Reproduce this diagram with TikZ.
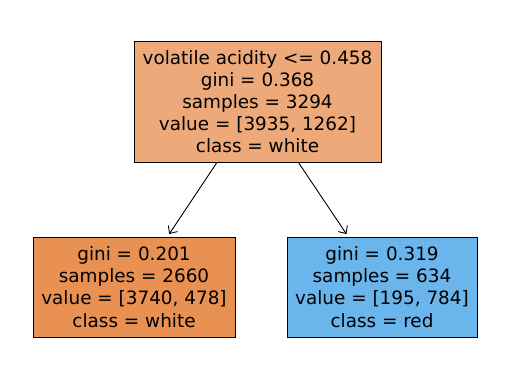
\documentclass[tikz,border=0pt]{standalone}
\usepackage{fontspec}
\setmainfont{DejaVu Sans}
\usetikzlibrary{positioning,arrows.meta}

\definecolor{rootfill}{RGB}{237,169,121}
\definecolor{whitefill}{RGB}{232,145,82}
\definecolor{redfill}{RGB}{106,181,235}

\begin{document}
\begin{tikzpicture}
            [
            x=1pt, y=1pt,
            tree box/.style={rectangle, draw, line width=0.9pt, align=center,
                inner sep=0pt, font=\fontsize{18.4}{22.1}\selectfont},
            tree edge/.style={-{Straight Barb[length=6pt,width=11pt]},
                line width=0.9pt, shorten >=3pt}
            ]

            \useasboundingbox (0,0) rectangle (515,-389);

            \node (root) [tree box, fill=rootfill, minimum width=247pt,
                minimum height=121pt] at (257.5,-101.5)
                {volatile acidity <= 0.458\\gini = 0.368\\samples = 3294\\value = [3935, 1262]\\class = white};

            % Leaves
            \node (left) [tree box, fill=whitefill, minimum width=202pt,
                minimum height=100pt] at (134,-287)
                {gini = 0.201\\samples = 2660\\value = [3740, 478]\\class = white};
            \node (right) [tree box, fill=redfill, minimum width=190pt,
                minimum height=100pt] at (382,-287)
                {gini = 0.319\\samples = 634\\value = [195, 784]\\class = red};

            \draw [tree edge] (root) -- (left);
            \draw [tree edge] (root) -- (right);

        \end{tikzpicture}
\end{document}
